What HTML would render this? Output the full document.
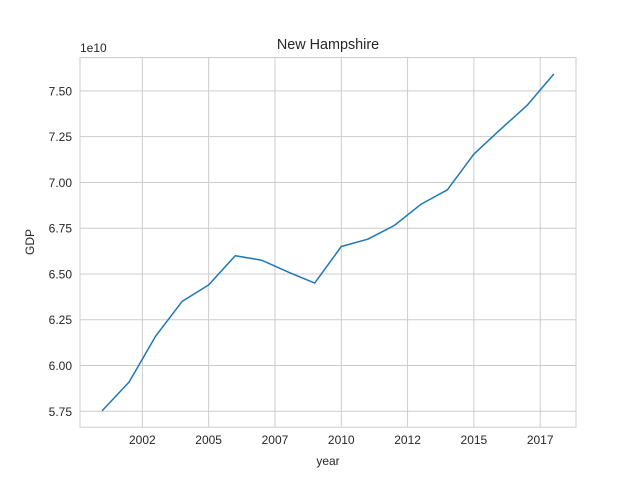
<!DOCTYPE html>
<html><head><meta charset="utf-8"><style>
body{margin:0;background:#fff;}
svg{display:block;font-family:"Liberation Sans","DejaVu Sans",sans-serif;}
</style></head><body>
<svg id="chart" width="640" height="480">
<rect x="0" y="0" width="640" height="480" fill="#fff"/>
<g id="grid"></g>
<g id="ticks"></g>
<rect x="80" y="57.6" width="496" height="369.6" fill="none" stroke="#cccccc" stroke-width="1"/>
<path id="line" fill="none" stroke="#1f77b4" stroke-width="1.5" stroke-linejoin="round" stroke-linecap="round"/>
<text x="328" y="49" text-anchor="middle" font-size="14.4" fill="#262626">New Hampshire</text>
<text x="80" y="52" font-size="12" fill="#262626">1e10</text>
<text x="328" y="465" text-anchor="middle" font-size="12" fill="#262626">year</text>
<text transform="translate(34,242) rotate(-90)" text-anchor="middle" font-size="12" fill="#262626">GDP</text>
</svg>
<script>
const years = [2001,2002,2003,2004,2005,2006,2007,2008,2009,2010,2011,2012,2013,2014,2015,2016,2017,2018];
const gdp = [5.755,5.91,6.16,6.35,6.44,6.60,6.575,6.51,6.45,6.65,6.69,6.765,6.88,6.96,7.155,7.29,7.42,7.59];
const xTicks = [2002.5,2005,2007.5,2010,2012.5,2015,2017.5];
const xTickLabels = ["2002","2005","2007","2010","2012","2015","2017"];
const yTicks = [5.75,6.0,6.25,6.5,6.75,7.0,7.25,7.5];
const yTickLabels = ["5.75","6.00","6.25","6.50","6.75","7.00","7.25","7.50"];

const L=80,R=576,T=57.6,B=427.2;
const xmin=2000.15,xmax=2018.85,ymin=5.663,ymax=7.682;
const sx=v=>L+(v-xmin)/(xmax-xmin)*(R-L);
const sy=v=>B-(v-ymin)/(ymax-ymin)*(B-T);
const NS="http://www.w3.org/2000/svg";
const grid=document.getElementById('grid'),ticks=document.getElementById('ticks');
function mk(tag,attrs,parent){const e=document.createElementNS(NS,tag);for(const k in attrs)e.setAttribute(k,attrs[k]);parent.appendChild(e);return e;}
xTicks.forEach((t,i)=>{
  const g=mk('line',{x1:sx(t),x2:sx(t),y1:T,y2:B,stroke:'#cccccc','stroke-width':1},grid);
  
  
  const tx=mk('text',{x:sx(t),y:B+17,'text-anchor':'middle','font-size':12,fill:'#262626'},ticks);
  tx.textContent=xTickLabels[i];
  
  
});
yTicks.forEach((t,i)=>{
  const g=mk('line',{x1:L,x2:R,y1:sy(t),y2:sy(t),stroke:'#cccccc','stroke-width':1},grid);
  
  
  const tx=mk('text',{x:L-8,y:sy(t)+4.5,'text-anchor':'end','font-size':12,fill:'#262626'},ticks);
  tx.textContent=yTickLabels[i];
  
  
});
document.getElementById('line').setAttribute('d',years.map((y,i)=>(i?'L':'M')+sx(y).toFixed(1)+','+sy(gdp[i]).toFixed(1)).join(''));
</script>
</body></html>
